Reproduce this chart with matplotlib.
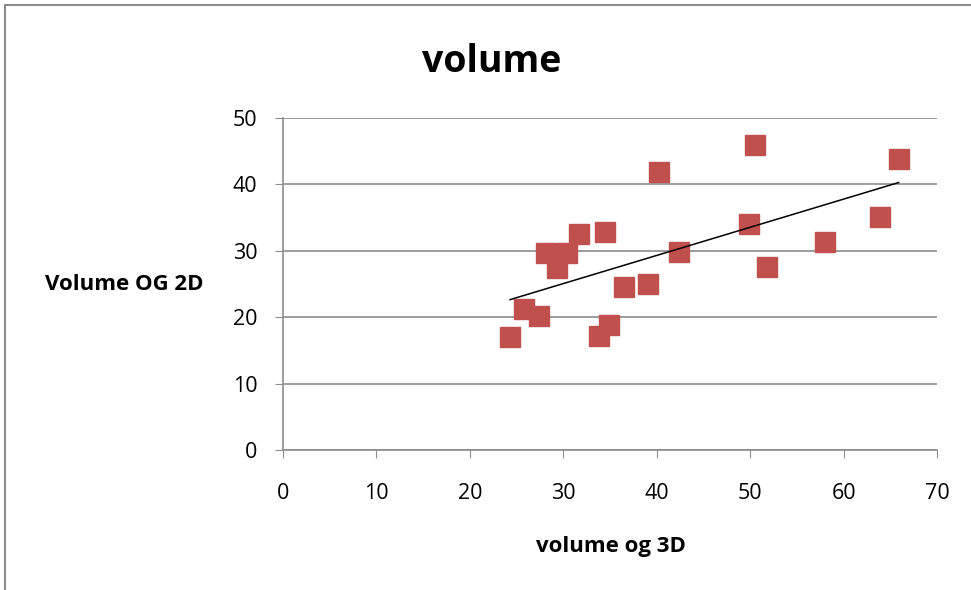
import numpy as np
import matplotlib.pyplot as plt
from matplotlib.patches import Rectangle

# volume measurements, 3D vs 2D
vol_3d = [24.3, 25.8, 27.4, 28.2, 30.4, 29.3, 31.7, 34.5, 36.5, 39.1,
          42.4, 34.9, 33.8, 40.2, 50.5, 65.9, 49.9, 63.9, 58.0, 51.8]
vol_2d = [17.0, 21.2, 20.2, 29.7, 29.7, 27.4, 32.5, 32.8, 24.5, 25.0,
          29.8, 18.8, 17.2, 41.9, 45.9, 43.8, 34.0, 35.1, 31.3, 27.6]

xticks = [0, 10, 20, 30, 40, 50, 60, 70]
yticks = [0, 10, 20, 30, 40, 50]

plt.rcParams['font.family'] = ['Open Sans', 'DejaVu Sans']

fig = plt.figure(figsize=(9.71, 5.90), dpi=100)
ax = fig.add_axes([283/971, 1 - 450/590, (937 - 283)/971, (450 - 118)/590])

# outer chart frame (only left/top visible)
fig.patches.append(Rectangle((5/971, -0.1), 1.2, (590 - 5)/590 + 0.1,
                             transform=fig.transFigure, fill=False,
                             edgecolor='#8c8c8c', linewidth=1.5))

ax.plot(vol_3d, vol_2d, 's', color='#C0504D', markersize=14.5,
        markeredgecolor='#C0504D', zorder=3)

# linear trend line
x = np.array(vol_3d)
y = np.array(vol_2d)
p = np.polyfit(x, y, 1)
xl = np.array([x.min(), x.max()])
ax.plot(xl, np.polyval(p, xl), color='black', linewidth=1.1, zorder=4)

ax.set_xlim(0, 70)
ax.set_ylim(0, 50)
ax.set_xticks(xticks)
ax.set_yticks(yticks)
ax.grid(axis='y', color='#8c8c8c', linewidth=1.2)
ax.set_axisbelow(True)
for s in ['top', 'right']:
    ax.spines[s].set_visible(False)
for s in ['left', 'bottom']:
    ax.spines[s].set_color('#8c8c8c')
    ax.spines[s].set_linewidth(1.2)
ax.tick_params(axis='x', direction='out', length=5.8, color='#8c8c8c',
               pad=18, labelsize=15.5)
ax.tick_params(axis='y', direction='out', length=5.8, color='#8c8c8c',
               pad=12.5, labelsize=15.5)

fig.text(492/971, 1 - 72/590, 'volume', fontsize=27, fontweight='bold',
         ha='center', va='baseline')
fig.text(124/971, 1 - 290/590, 'Volume OG 2D', fontsize=16, fontweight='bold',
         ha='center', va='baseline')
fig.text(611/971, 1 - 552/590, 'volume og 3D', fontsize=16, fontweight='bold',
         ha='center', va='baseline')

fig.savefig('out.png', dpi=100)
